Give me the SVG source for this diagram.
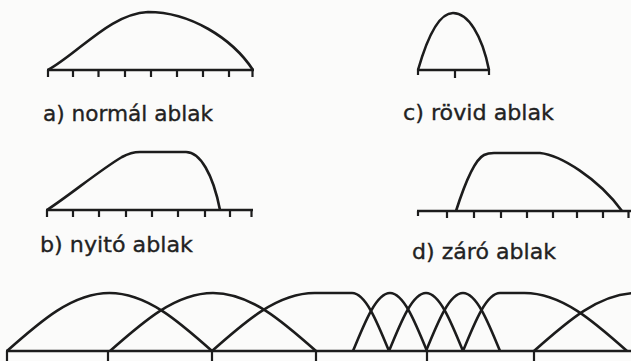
<svg xmlns="http://www.w3.org/2000/svg" width="631" height="361" viewBox="0 0 631 361">
<style>
.ln{fill:none;stroke:#1c1c1c;stroke-width:2.6;stroke-linecap:butt;stroke-linejoin:round}
.tk{fill:none;stroke:#1c1c1c;stroke-width:2.2}
.lb{font-family:"DejaVu Sans","Liberation Sans",sans-serif;font-size:22px;fill:#222;stroke:#222;stroke-width:0.35}
</style>
<rect x="0" y="0" width="631" height="361" fill="#fbfbfa"/>
<g id="panel-a">
<path class="ln" d="M48,70 C80,52 110,14 148,12 C190,12 232,38 253,70"/>
<path class="ln" d="M47,70 H254"/>
<path class="tk" d="M48,70 V77 M73,70 V77 M98.5,70 V77 M125,70 V77 M151,70 V77 M177,70 V77 M203,70 V77 M229,70 V77 M252.5,70 V77"/>
<text class="lb" x="43" y="121" textLength="170" lengthAdjust="spacingAndGlyphs">a) normál ablak</text>
</g>
<g id="panel-c">
<path class="ln" d="M418,70 C428,35 440,13 453,13 C468,13 482,35 489,70"/>
<path class="ln" d="M417,70 H490"/>
<path class="tk" d="M418,70 V75 M455,70 V78 M489,70 V75"/>
<text class="lb" x="403" y="120" textLength="151" lengthAdjust="spacingAndGlyphs">c) rövid ablak</text>
</g>
<g id="panel-b">
<path class="ln" d="M47,210 C70,195 100,170 122,157 Q131,152 140,152 L186,152 C200,152 213,174 220,210"/>
<path class="ln" d="M46,210 H253"/>
<path class="tk" d="M47,210 V217 M73,210 V217 M99,210 V217 M126,210 V217 M152,210 V217 M178,210 V217 M205,210 V217 M230,210 V217 M251.5,210 V217"/>
<text class="lb" x="40" y="252" textLength="153" lengthAdjust="spacingAndGlyphs">b) nyitó ablak</text>
</g>
<g id="panel-d">
<path class="ln" d="M456,211 C464,186 474,160 484,155 Q488,153 494,153 L540,153 C560,155 598,178 622,211"/>
<path class="ln" d="M417,211 H631"/>
<path class="tk" d="M418,211 V216 M447,211 V218 M474,211 V218 M501,211 V218 M527,211 V218 M553,211 V218 M577,211 V218 M603,211 V218 M628.5,211 V218"/>
<text class="lb" x="412" y="259" textLength="144" lengthAdjust="spacingAndGlyphs">d) záró ablak</text>
</g>
<g id="sequence">
<path class="ln" d="M7,351 C40.4,321.3 72.4,293 109.5,293 C146.6,293 178.6,321.3 212,351"/>
<path class="ln" d="M110,351 C143.6,321.3 175.7,293 213,293 C250.3,293 282.4,321.3 316,351"/>
<path class="ln" d="M212,351 C245.4,321.3 277.4,293 314.5,293 L352,293 C365.4,293 376.9,321.3 389,351"/>
<path class="ln" d="M353,351 C365.1,321.3 376.6,293 390,293 C403.4,293 414.9,321.3 427,351"/>
<path class="ln" d="M389,351 C401.1,321.3 412.6,293 426,293 C439.4,293 450.9,321.3 463,351"/>
<path class="ln" d="M426,351 C438.1,321.3 449.6,293 463,293 C476.4,293 487.9,321.3 500,351"/>
<path class="ln" d="M463,351 C475.1,321.3 486.6,293 500,293 L524.5,293 C561.6,293 593.6,321.3 627,351"/>
<path class="ln" d="M534,351 C567.4,321.3 599.4,293 636.5,293"/>
<path class="ln" d="M6,351 H631"/>
<path class="tk" d="M7,351 V361 M108,351 V361 M212,351 V361 M316,351 V361 M427,351 V361 M534,351 V361"/>
</g>
</svg>
